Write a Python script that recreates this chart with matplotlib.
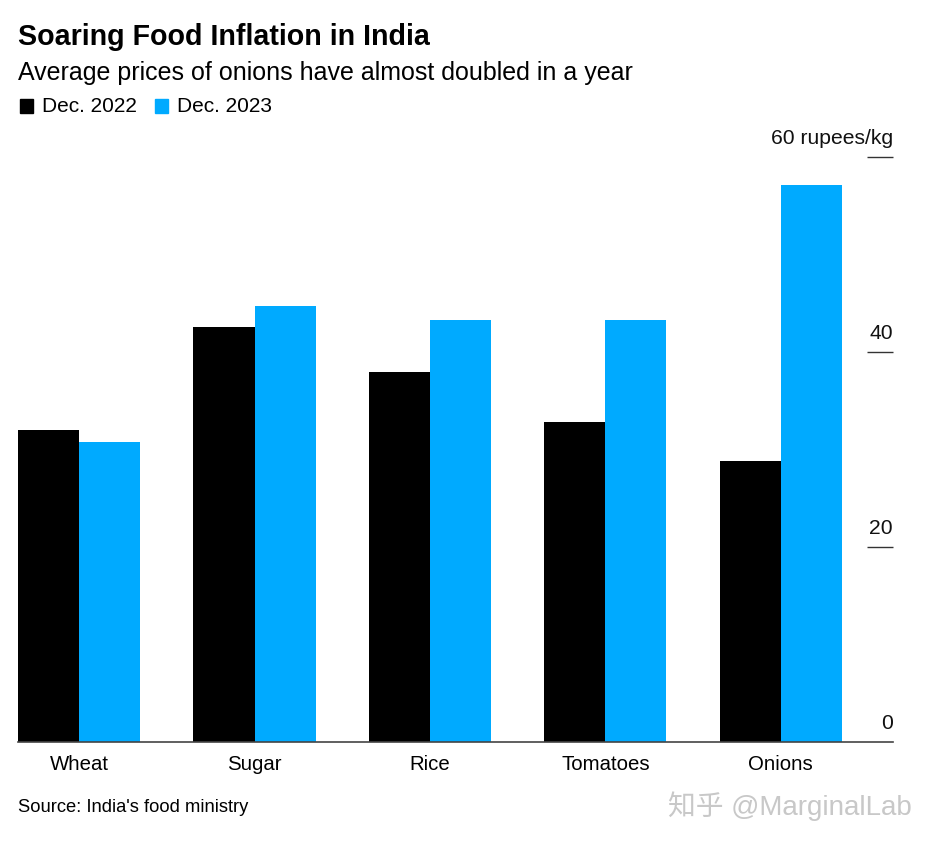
import numpy as np
import matplotlib
matplotlib.use("Agg")
from matplotlib import pyplot as plt
import matplotlib.transforms as mtransforms

categories = ["Wheat", "Sugar", "Rice", "Tomatoes", "Onions"]
dec_2022 = [32.0, 42.6, 38.0, 32.8, 28.8]
dec_2023 = [30.8, 44.7, 43.3, 43.3, 57.1]
series_names = ["Dec. 2022", "Dec. 2023"]
ytick_values = [0, 20, 40, 60]
ytick_labels = ["0", "20", "40", "60 rupees/kg"]

BLACK = "#000000"
BLUE = "#00aaff"

plt.rcParams["font.family"] = ["Liberation Sans", "Noto Sans CJK SC", "DejaVu Sans"]

fig = plt.figure(figsize=(9.36, 8.48), dpi=100)
ax = fig.add_axes([18 / 936, 106 / 848, 875 / 936, 585 / 848])

x = np.arange(len(categories))
w = 61 / 175
ax.bar(x - w / 2, dec_2022, width=w, color=BLACK, zorder=2)
ax.bar(x + w / 2, dec_2023, width=w, color=BLUE, zorder=2)

ax.set_xlim(-w, len(categories) - 1 + 112 / 175)
ax.set_ylim(0, 60)

for s in ["top", "left", "right"]:
    ax.spines[s].set_visible(False)
ax.spines["bottom"].set_color("#444444")
ax.spines["bottom"].set_linewidth(1.2)
ax.spines["bottom"].set_zorder(3)

# short marks at right edge, labels sit above them
ax.yaxis.tick_right()
ax.set_yticks(ytick_values[1:])
ax.tick_params(axis="y", direction="in", length=19, width=1, color="#333333",
               labelright=False, pad=0)
trans = mtransforms.blended_transform_factory(ax.transAxes, ax.transData)
for v, lab in zip(ytick_values, ytick_labels):
    ax.text(1.0, v + 0.9, lab, transform=trans, ha="right", va="bottom",
            fontsize=15.2, color="#111111")

ax.set_xticks(x)
ax.set_xticklabels(categories, fontsize=14.7)
ax.tick_params(axis="x", length=0, pad=9)

# header
fig.text(18 / 936, 1 - 45 / 848, "Soaring Food Inflation in India", fontsize=20.6,
         fontweight="bold", ha="left", va="baseline")
fig.text(18 / 936, 1 - 80 / 848, "Average prices of onions have almost doubled in a year",
         fontsize=18, ha="left", va="baseline")

# legend
leg_y = 1 - 106 / 848
for x0, name, col in [(20, series_names[0], BLACK), (155, series_names[1], BLUE)]:
    fig.patches.append(plt.Rectangle((x0 / 936, leg_y - 7 / 848), 13 / 936, 14 / 848,
                                     transform=fig.transFigure, color=col, figure=fig))
    fig.text((x0 + 22) / 936, leg_y, name, fontsize=15, ha="left", va="center")

fig.text(18 / 936, 1 - 807 / 848, "Source: India's food ministry", fontsize=13.2,
         ha="left", va="center")
fig.text(912 / 936, 1 - 806 / 848, "知乎 @MarginalLab", fontsize=20, color="#c8c8c8",
         ha="right", va="center")

fig.savefig("out.png", dpi=100)
